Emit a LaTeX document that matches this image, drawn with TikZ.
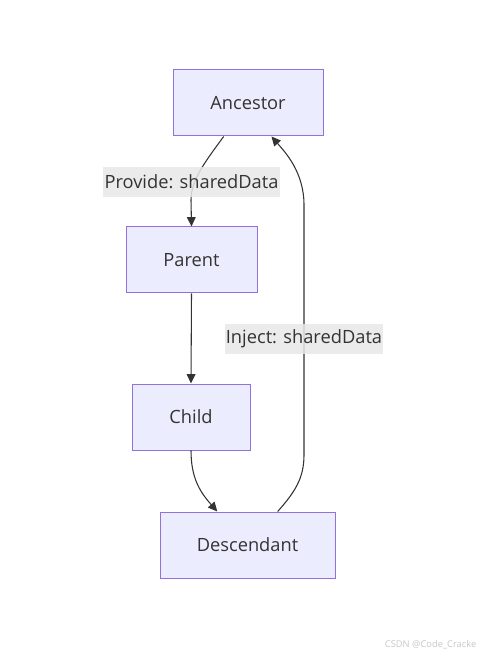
\documentclass[tikz,border=0pt]{standalone}
\usepackage{fontspec}
\setmainfont{Open Sans}
\usetikzlibrary{arrows.meta,positioning}
\definecolor{boxfill}{HTML}{ECECFF}
\definecolor{boxline}{HTML}{9370DB}
\definecolor{edgeink}{HTML}{333333}
\definecolor{labelbg}{HTML}{E8E8E8}

\begin{document}
\begin{tikzpicture}[x=.75pt,y=-.75pt,font=\fontsize{13.7}{15}\selectfont,
    box/.style={draw=boxline,fill=boxfill,line width=.75pt,minimum height=49.5pt,text=edgeink},
    edge/.style={draw=edgeink,line width=.8pt,-{Triangle[length=7pt,width=6.5pt]}},
    elabel/.style={fill=labelbg,fill opacity=.85,text opacity=1,text=edgeink,inner xsep=1pt,minimum height=22.5pt}]
        \useasboundingbox (0,0) rectangle (481,655);

        \node[box,minimum width=112.5pt] (anc) at (248,103) {Ancestor};
        \node[box,minimum width=98.25pt] (par) at (191.5,260) {Parent};
        \node[box,minimum width=88.5pt] (chd) at (191,417) {Child};
        \node[box,minimum width=131.25pt] (des) at (247.5,545) {Descendant};

        \draw[edge] (anc.234) .. controls (205,162) and (191,180) .. (191,200) -- (par.north);
        \draw[edge] (par.south) -- (chd.north);
        \draw[edge] (chd.south) .. controls (191,478) and (200,492) .. (des.132);
        \draw[edge] (des.48) .. controls (295,492) and (304,478) .. (304,455)
            -- (304,205) .. controls (304,172) and (285,152) .. (anc.-55);

        \node[elabel] (provide) at (191.5,182) {Provide: sharedData};
        \node[elabel] (inject) at (304,338.5) {Inject: sharedData};

        \node[anchor=east,font=\fontsize{7}{8}\selectfont,text=black!22] (mark) at (481,645) {CSDN @Code\_Cracke};
      \end{tikzpicture}
\end{document}
